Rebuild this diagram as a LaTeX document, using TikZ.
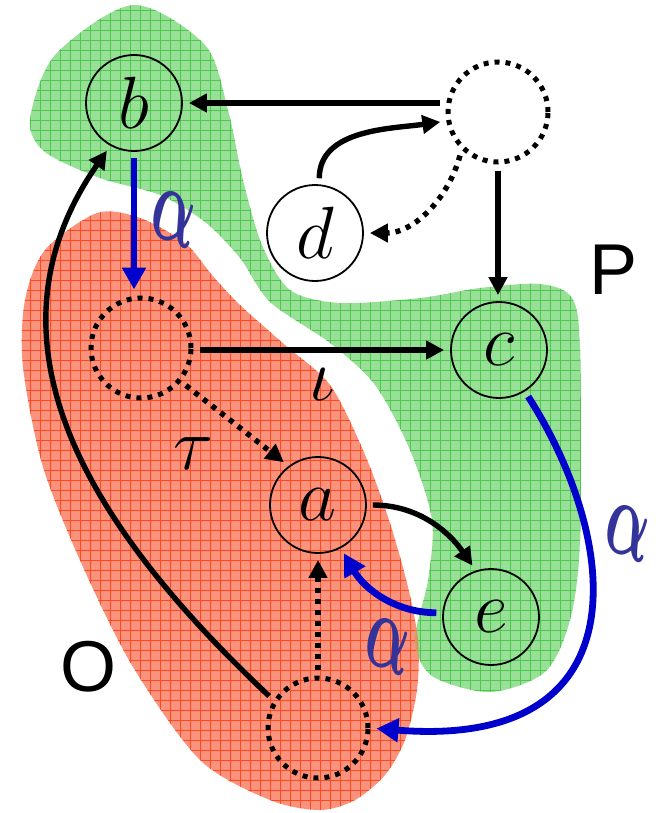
\RequirePackage{fix-cm}
\documentclass[tikz,border=0pt]{standalone}
\usepackage{fontspec}
\newfontfamily\setfont{Liberation Sans}
\usetikzlibrary{arrows.meta,positioning}
\definecolor{gfill}{HTML}{98E098}
\definecolor{gline}{HTML}{4CC94C}
\definecolor{rfill}{HTML}{F9937D}
\definecolor{rline}{HTML}{FF4A1F}
\definecolor{mfill}{HTML}{D29A5A}
\definecolor{bl}{HTML}{0000CC}
\definecolor{al}{HTML}{333399}
\newcommand{\lettersz}{\fontsize{37}{40}\selectfont}
\newcommand{\greenblob}{plot[smooth cycle] coordinates {(133,-5) (205,-45) (228,-110) (243,-180) (262,-245) (290,-290) (340,-303) (420,-298) (480,-288) (540,-284) (572,-298) (580,-350) (580,-540) (570,-620) (545,-672) (490,-692) (432,-676) (415,-640) (428,-580) (432,-520) (410,-450) (375,-385) (330,-343) (270,-302) (240,-258) (205,-222) (160,-195) (100,-178) (45,-152) (30,-120) (55,-55)}}
\newcommand{\redblob}{plot[smooth cycle] coordinates {(97,-213) (140,-218) (185,-243) (212,-275) (240,-305) (285,-345) (330,-385) (363,-450) (388,-517) (407,-583) (418,-640) (417,-690) (405,-740) (385,-775) (355,-800) (320,-810) (270,-800) (200,-760) (133,-667) (83,-567) (43,-467) (23,-367) (25,-300) (45,-250)}}
\tikzset{
  nd/.style={circle,draw,line width=0.9pt,minimum size=48pt,inner sep=0pt,font=\lettersz},
  hd/.style={circle,draw,line width=2.5pt,dash pattern=on 2.5pt off 3pt,minimum size=50pt,inner sep=0pt},
  ar/.style={-{Triangle[length=9pt,width=9pt]},line width=2.7pt,shorten <=3pt,shorten >=3pt},
  dar/.style={ar,dash pattern=on 2.5pt off 3pt},
  bar/.style={ar,draw=bl,line width=3.4pt,-{Triangle[length=11pt,width=11.5pt]}},
  lbl/.style={inner sep=0pt,font=\lettersz},
  alf/.style={inner sep=0pt,text=al,font=\fontsize{32}{32}\selectfont\boldmath,xscale=0.9,yscale=1.75,rotate=-12},
  setlbl/.style={inner sep=0pt,font=\setfont\fontsize{36}{36}\selectfont},
}

\begin{document}
\begin{tikzpicture}[x=0.5pt,y=0.5pt]
  \useasboundingbox (0,0) rectangle (655,-813);

  % the two sets
  \begin{scope}
    \clip \redblob;
    \fill[rfill] (0,0) rectangle (655,-813);
    \draw[rline,line width=0.4pt,step=5pt] (0,-813) grid (655,0);
  \end{scope}
  \begin{scope}
    \clip \greenblob;
    \fill[gfill] (0,0) rectangle (655,-813);
    \draw[gline,line width=0.4pt,step=5pt] (0,-813) grid (655,0);
  \end{scope}
  \begin{scope}
    \clip \redblob;
    \clip \greenblob;
    \fill[mfill] (0,0) rectangle (655,-813);
  \end{scope}

  \node[nd] (b) at (134,-103) {$b$};
  \node[hd] (x1) at (498,-112) {};
  \node[nd] (d) at (315,-233) {$d$};
  \node[nd] (c) at (499,-350) {$c$};
  \node[hd] (x2) at (141,-348) {};
  \node[nd] (a) at (318,-505) {$a$};
  \node[nd] (e) at (491,-617) {$e$};
  \node[hd] (x3) at (318,-728) {};

  \node[setlbl] (P) at (614,-270) {P};
  \node[setlbl] (O) at (89,-667) {O};

  \draw[ar] (x1.west |- b) -- (b);
  \draw[ar] (d.85) to[out=90,in=188] (x1.190);
  \draw[dar] (x1.226) to[out=255,in=0] (d.east);
  \draw[ar] (x1) -- (x1 |- c.north);
  \draw[bar] (b.south) -- (b.south |- x2.north);
  \node[alf] (al1) at (174,-218) {$\alpha$};
  \draw[ar] (x2.east |- c) -- (c) node[lbl,midway,below=8pt] {$\iota$};
  \draw[dar] (x2.-40) -- (a.127) node[lbl,pos=0.4,below left=10pt and 4pt] {$\tau$};
  \draw[ar] (a.east) to[out=0,in=125] (e.108);
  \draw[bar] (e.175) to[out=180,in=-60] (a.-62);
  \node[alf] (al2) at (388,-645) {$\alpha$};
  \draw[bar] (c.-58) .. controls (620,-540) and (645,-750) .. (x3.east);
  \node[alf] (al3) at (628,-532) {$\alpha$};
  \draw[dar] (x3) -- (a);
  \draw[ar] (x3.148) .. controls (109,-545) and (-34,-353) .. (b.241);
\end{tikzpicture}
\end{document}
